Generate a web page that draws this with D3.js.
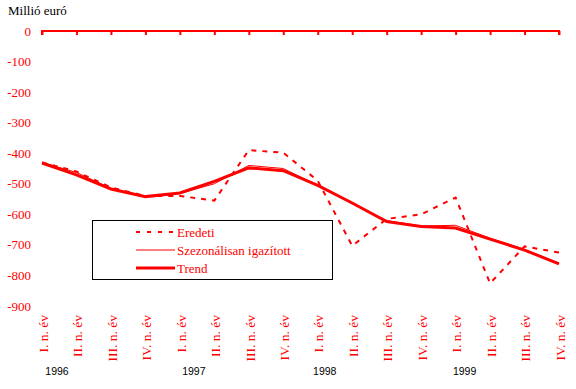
<!DOCTYPE html>
<html>
<head>
<meta charset="utf-8">
<script src="https://cdn.jsdelivr.net/npm/d3@7"></script>
<style>
  body { margin: 0; background: #fff; }
  text { font-family: 'Liberation Serif', 'Times New Roman', serif; }
</style>
</head>
<body>
<div id="chart"></div>
<script>
// data
let quarters = ['I. n. év', 'II. n. év', 'III. n. év', 'IV. n. év',
  'I. n. év', 'II. n. év', 'III. n. év', 'IV. n. év',
  'I. n. év', 'II. n. év', 'III. n. év', 'IV. n. év',
  'I. n. év', 'II. n. év', 'III. n. év', 'IV. n. év'];
let years = ['1996', '1997', '1998', '1999'];
let eredeti = [-430, -460, -512, -540, -540, -555, -390, -398, -490, -703, -615, -600, -545, -826, -705, -725];
let szezonalis = [-430, -463, -515, -540, -532, -500, -440, -450, -505, -565, -620, -638, -636, -678, -715, -760];
let trend = [-432, -471, -517, -542, -530, -492, -448, -457, -505, -563, -624, -640, -645, -681, -717, -762];
let yTicks = [0, -100, -200, -300, -400, -500, -600, -700, -800, -900];

let red = '#ff0000';
let W = 576, H = 389;
let margin = { top: 31, left: 42, right: 17, bottom: 83 };

const svg = d3.select('#chart')
  .append('svg')
  .attr('width', W)
  .attr('height', H);

let x = d3.scalePoint()
  .domain(d3.range(quarters.length))
  .range([margin.left, W - margin.right]);

let y = d3.scaleLinear()
  .domain([0, -900])
  .range([margin.top, H - margin.bottom]);

// unit label
svg.append('text')
  .attr('x', 8)
  .attr('y', 15)
  .attr('font-size', 13)
  .attr('fill', '#000')
  .text('Millió euró');

// y tick labels, no axis line
svg.append('g')
  .selectAll('text')
  .data(yTicks)
  .join('text')
  .attr('x', 31)
  .attr('y', (d) => y(d))
  .attr('dy', '0.35em')
  .attr('text-anchor', 'end')
  .attr('font-size', 13)
  .attr('fill', red)
  .text((d) => d);

// x axis sits on the zero line, ticks pointing down
let xAxis = svg.append('g')
  .attr('transform', `translate(0,${y(0)})`)
  .call(d3.axisBottom(x).tickSize(4).tickSizeOuter(0).tickFormat(''));
xAxis.select('.domain').attr('stroke', red).attr('stroke-width', 2)
  .attr('d', `M${x(0)},4V0H${x(quarters.length - 1)}V4`);
xAxis.selectAll('.tick line').attr('stroke', red).attr('stroke-width', 2);

// rotated quarter labels at the bottom
svg.append('g')
  .selectAll('text')
  .data(quarters)
  .join('text')
  .attr('transform', (d, i) => `translate(${x(i) + 1},315) rotate(-90)`)
  .attr('dy', '0.35em')
  .attr('text-anchor', 'end')
  .attr('font-size', 13.5)
  .attr('fill', red)
  .text((d) => d);

// year labels
let yearOffset = [15, 14, 7, 9];
svg.append('g')
  .selectAll('text')
  .data(years)
  .join('text')
  .attr('x', (d, i) => x(i * 4) + yearOffset[i])
  .attr('y', 375)
  .attr('text-anchor', 'middle')
  .attr('font-size', 10.5)
  .style('font-family', "'Liberation Sans', Arial, sans-serif")
  .attr('fill', '#000')
  .text((d) => d);

// lines
let line = d3.line()
  .x((d, i) => x(i))
  .y((d) => y(d));

let series = [
  { name: 'Eredeti', values: eredeti, width: 2, dash: '5,6' },
  { name: 'Szezonálisan igazított', values: szezonalis, width: 1, dash: null },
  { name: 'Trend', values: trend, width: 3, dash: null },
];

svg.append('g')
  .selectAll('path')
  .data(series)
  .join('path')
  .attr('fill', 'none')
  .attr('stroke', red)
  .attr('stroke-width', (d) => d.width)
  .attr('stroke-dasharray', (d) => d.dash)
  .attr('d', (d) => line(d.values));

// legend
let legend = svg.append('g');
legend.append('rect')
  .attr('x', 92.5)
  .attr('y', 220.5)
  .attr('width', 240)
  .attr('height', 59)
  .attr('fill', '#fff')
  .attr('stroke', '#000')
  .attr('stroke-width', 1);

let rows = legend.selectAll('.row')
  .data(series)
  .join('g')
  .attr('class', 'row')
  .attr('transform', (d, i) => `translate(0,${232 + i * 18})`);

rows.append('line')
  .attr('x1', 136)
  .attr('x2', 175)
  .attr('stroke', red)
  .attr('stroke-width', (d) => d.width)
  .attr('stroke-dasharray', (d) => (d.dash ? '4,7' : null));

rows.append('text')
  .attr('x', 177)
  .attr('dy', '0.35em')
  .attr('font-size', 13)
  .attr('fill', red)
  .text((d) => d.name);
</script>
</body>
</html>
